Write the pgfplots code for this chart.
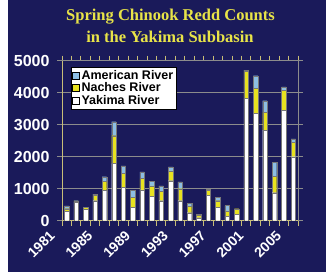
\documentclass[border=0pt]{standalone}
\usepackage{fontspec}
\setmainfont{Liberation Serif}
\setsansfont{Liberation Sans}
\usepackage{pgfplots}
\usepackage{pgfplotstable}
\pgfplotsset{compat=1.18}
\definecolor{bgtop}{RGB}{10,10,16}
\definecolor{bgmid}{RGB}{20,20,66}
\definecolor{bgnavy}{RGB}{26,26,90}
\definecolor{bgbot}{RGB}{6,6,18}
\definecolor{titleyellow}{RGB}{232,228,72}
\definecolor{nyellow}{RGB}{232,226,32}
\definecolor{ablue}{RGB}{140,190,228}
\definecolor{gridgray}{RGB}{140,140,140}
\definecolor{tancol}{RGB}{200,190,120}
\definecolor{bargray}{RGB}{120,120,120}
\pgfdeclareverticalshading{slide}{100bp}{color(0bp)=(bgbot); color(14bp)=(bgnavy); color(75bp)=(bgnavy); color(88bp)=(bgmid); color(100bp)=(bgtop)}
\pgfplotstableread{
year yak nac ame
1981 290 85 85
1982 580 40 5
1983 350 60 5
1984 625 165 40
1985 940 290 145
1986 1790 865 440
1987 1040 440 230
1988 420 310 210
1989 960 355 210
1990 770 320 145
1991 625 290 175
1992 1250 310 125
1993 625 375 210
1994 250 210 85
1995 95 70 40
1996 790 165 20
1997 415 210 115
1998 145 165 165
1999 200 175 0
2000 3820 845 40
2001 3355 780 395
2002 2830 555 365
2003 875 510 430
2004 3440 625 115
2005 2000 440 115
}\data
\begin{document}
\begin{tikzpicture}
\useasboundingbox (0pt,0pt) rectangle (326pt,271pt);
\fill[white] (0pt,0pt) rectangle (326pt,271pt);
\shade[shading=slide] (8pt,0pt) rectangle (326pt,271pt);
\node[anchor=base, text=titleyellow, font=\bfseries\fontsize{16.5}{18}\selectfont, inner sep=0pt] at (170.5pt,250.3pt) {Spring Chinook Redd Counts};
\node[anchor=base, text=titleyellow, font=\bfseries\fontsize{16.5}{18}\selectfont, inner sep=0pt] at (170pt,228.3pt) {in the Yakima Subbasin};
\begin{axis}[
  at={(62pt,50.3pt)}, anchor=south west,
  width=236pt, height=160pt, scale only axis,
  ybar stacked, bar width=4.5pt,
  xmin=1980.5, xmax=2005.5, ymin=0, ymax=5000,
  xtick={1981,1985,1989,1993,1997,2001,2005},
  xticklabels={1981,1985,1989,1993,1997,2001,2005},
  minor xtick={1980.5,1981.5,...,2005.5},
  ytick={0,1000,2000,3000,4000,5000},
  yticklabels={0,1000,2000,3000,4000,5000},
  tick align=outside,
  major x tick style={draw=none},
  minor x tick style={draw=tancol, line width=0.8pt},
  major y tick style={draw=gridgray, line width=0.8pt},
  major tick length=5pt, minor tick length=5pt,
  ymajorgrids, major grid style={draw=gridgray, line width=0.8pt},
  axis line style={draw=gridgray, line width=0.8pt},
  ticklabel style={text=white, font=\sffamily\bfseries\fontsize{16}{16}\selectfont},
  yticklabel style={xshift=-4pt},
  xticklabel style={font=\sffamily\bfseries\fontsize{14}{14}\selectfont, xshift=-12pt, yshift=-5pt, rotate=45, anchor=east},
  legend style={at={(0.038,0.96)}, anchor=north west, draw=black, fill=white,
    font=\sffamily\bfseries\fontsize{12.5}{12.5}\selectfont, text=black,
    inner sep=1pt, row sep=-2pt, cells={anchor=west}},
  reverse legend,
  legend image code/.code={\draw[#1, draw=black, line width=0.4pt] (0pt,-3.5pt) rectangle (7pt,3.5pt);},
]
\addplot[fill=white, draw=bargray, line width=0.3pt] table[x=year,y=yak] {\data};
\addlegendentry{Yakima River}
\addplot[fill=nyellow, draw=bargray, line width=0.3pt] table[x=year,y=nac] {\data};
\addlegendentry{Naches River}
\addplot[fill=ablue, draw=bargray, line width=0.3pt] table[x=year,y=ame] {\data};
\addlegendentry{American River}
\draw[tancol, line width=0.8pt] (rel axis cs:0,0) -- (rel axis cs:0,1);
\draw[tancol, line width=0.8pt] (rel axis cs:0,0) -- (rel axis cs:1,0);
\end{axis}
\end{tikzpicture}
\end{document}
